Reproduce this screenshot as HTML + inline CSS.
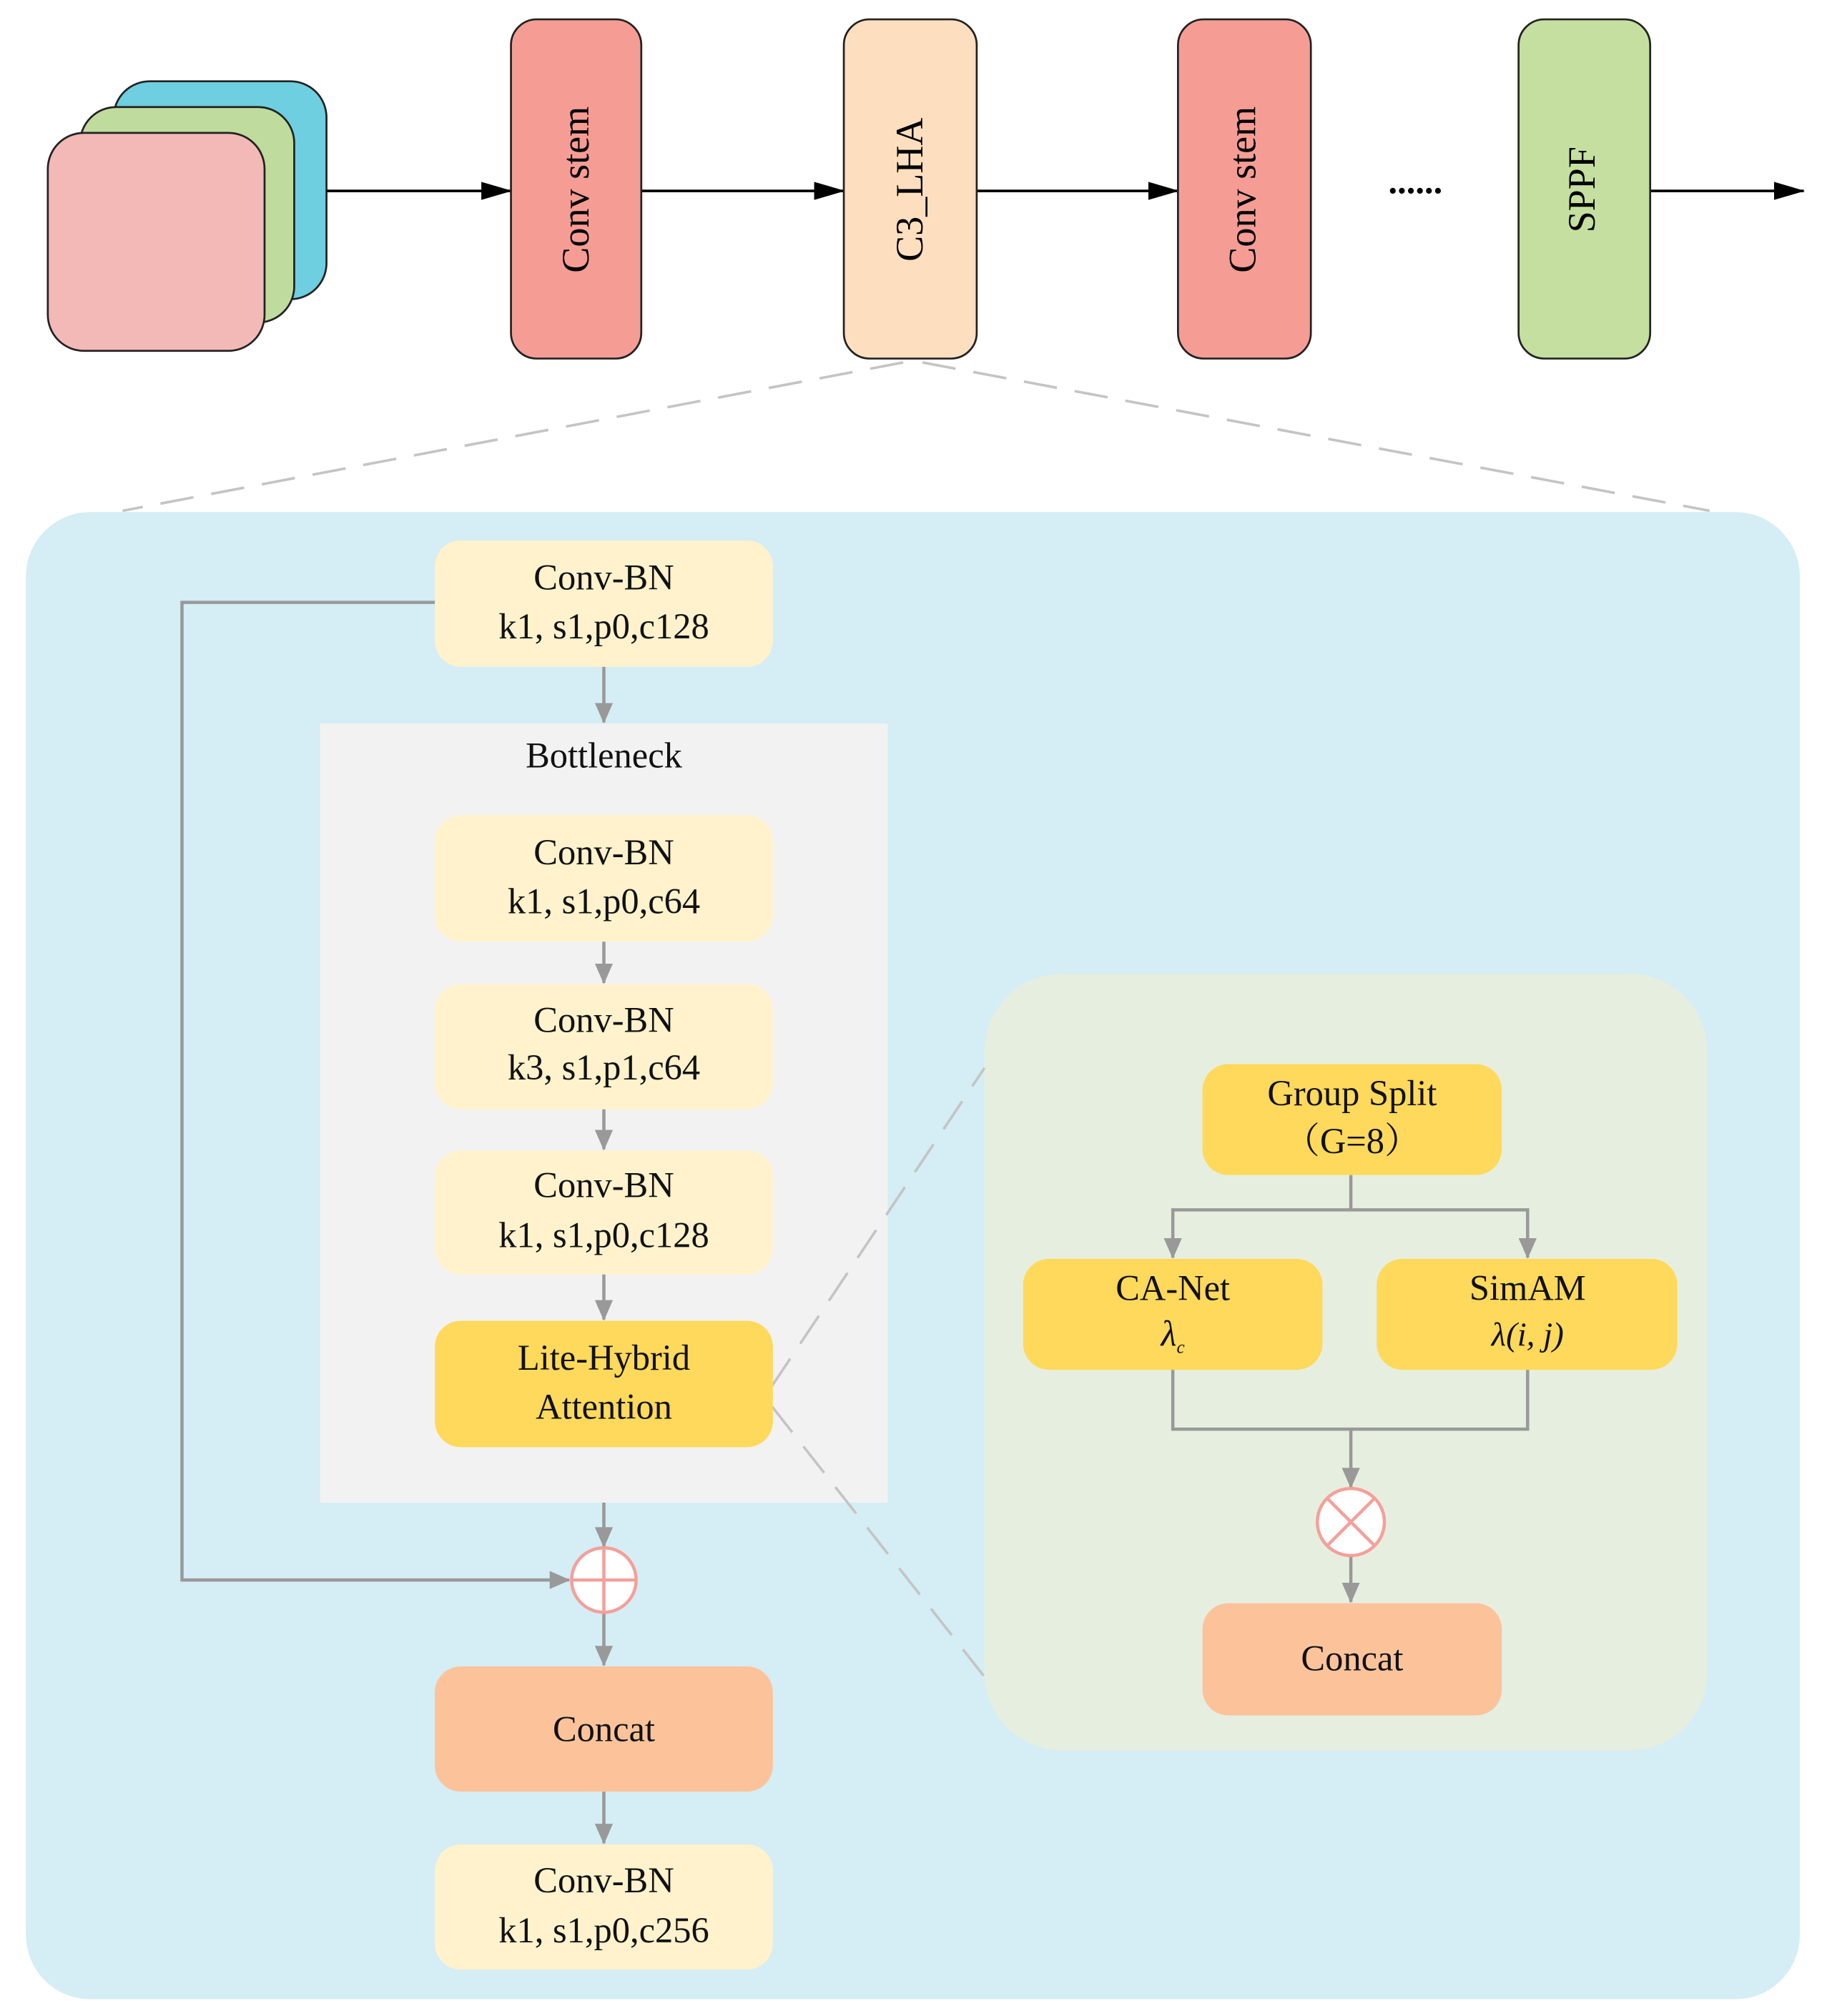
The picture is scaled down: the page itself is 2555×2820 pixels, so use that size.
<!DOCTYPE html>
<html><head><meta charset="utf-8"><style>html,body{margin:0;padding:0;background:#fff}svg{display:block}</style></head>
<body>
<svg width="2555" height="2820" viewBox="0 0 1416 1563" xmlns="http://www.w3.org/2000/svg" font-family="'Liberation Serif', serif">
<defs>
<marker id="ab" markerWidth="24" markerHeight="16" refX="23" refY="8" orient="auto" markerUnits="userSpaceOnUse" viewBox="0 0 24 16"><path d="M0,1 L24,8 L0,15 z" fill="#000"/></marker>
<marker id="ag" markerWidth="16" markerHeight="16" refX="15" refY="8" orient="auto" markerUnits="userSpaceOnUse" viewBox="0 0 16 16"><path d="M0,1 L16,8 L0,15 z" fill="#999"/></marker>
</defs>
<rect width="1416" height="1563" fill="#fff"/>
<rect x="88" y="63" width="165" height="169" rx="28" fill="#6dcfdf" stroke="#222" stroke-width="1.5"/>
<rect x="62" y="83" width="166" height="167" rx="28" fill="#bfdc9e" stroke="#222" stroke-width="1.5"/>
<rect x="37" y="103" width="168" height="169" rx="28" fill="#f3b9b7" stroke="#222" stroke-width="1.5"/>
<g stroke="#000" stroke-width="2" fill="none">
<line x1="253" y1="148" x2="396" y2="148" marker-end="url(#ab)"/>
<line x1="497" y1="148" x2="654" y2="148" marker-end="url(#ab)"/>
<line x1="757" y1="148" x2="913" y2="148" marker-end="url(#ab)"/>
<line x1="1279" y1="148" x2="1398" y2="148" marker-end="url(#ab)"/>
</g>
<rect x="396" y="15" width="101" height="263" rx="20" fill="#f59d94" stroke="#222" stroke-width="1.5"/>
<rect x="654" y="15" width="103" height="263" rx="20" fill="#fddfc0" stroke="#222" stroke-width="1.5"/>
<rect x="913" y="15" width="103" height="263" rx="20" fill="#f59d94" stroke="#222" stroke-width="1.5"/>
<rect x="1177" y="15" width="102" height="263" rx="20" fill="#c5dfa0" stroke="#222" stroke-width="1.5"/>
<g font-size="30" text-anchor="middle" fill="#000">
<text transform="translate(456,147) rotate(-90)">Conv stem</text>
<text transform="translate(715,147) rotate(-90)">C3_LHA</text>
<text transform="translate(973,147) rotate(-90)">Conv stem</text>
<text transform="translate(1236,147) rotate(-90)">SPPF</text>
</g>
<text x="1097" y="150" font-size="28" text-anchor="middle" font-weight="bold">......</text>
<g stroke="#c4c4c4" stroke-width="2" stroke-dasharray="26,14" fill="none">
<line x1="700" y1="281" x2="95" y2="396"/>
<line x1="715" y1="281" x2="1325" y2="396"/>
</g>
<rect x="20" y="397" width="1375" height="1153" rx="50" fill="#d5edf4"/>
<rect x="248" y="561" width="440" height="604" fill="#f2f2f2"/>
<rect x="763" y="755" width="560" height="602" rx="60" fill="#e6efdf"/>
<g stroke="#c4c4c4" stroke-width="2" stroke-dasharray="26,14" fill="none">
<line x1="598" y1="1075" x2="763" y2="828"/>
<line x1="598" y1="1090" x2="763" y2="1300"/>
</g>
<g stroke="#999" stroke-width="2.5" fill="none">
<polyline points="337,467 141,467 141,1225 441,1225" marker-end="url(#ag)"/>
<line x1="468" y1="517" x2="468" y2="560" marker-end="url(#ag)"/>
<line x1="468" y1="730" x2="468" y2="762" marker-end="url(#ag)"/>
<line x1="468" y1="860" x2="468" y2="891" marker-end="url(#ag)"/>
<line x1="468" y1="988" x2="468" y2="1023" marker-end="url(#ag)"/>
<line x1="468" y1="1165" x2="468" y2="1199" marker-end="url(#ag)"/>
<line x1="468" y1="1251" x2="468" y2="1291" marker-end="url(#ag)"/>
<line x1="468" y1="1389" x2="468" y2="1429" marker-end="url(#ag)"/>
<polyline points="1047,911 1047,938 909,938 909,975" marker-end="url(#ag)"/>
<polyline points="1047,938 1184,938 1184,975" marker-end="url(#ag)"/>
<polyline points="909,1062 909,1108 1184,1108 1184,1062"/>
<line x1="1047" y1="1108" x2="1047" y2="1153" marker-end="url(#ag)"/>
<line x1="1047" y1="1206" x2="1047" y2="1242" marker-end="url(#ag)"/>
</g>
<g>
<rect x="337" y="419" width="262" height="98" rx="20" fill="#fff2cc"/>
<rect x="337" y="632" width="262" height="98" rx="20" fill="#fff2cc"/>
<rect x="337" y="763" width="262" height="97" rx="20" fill="#fff2cc"/>
<rect x="337" y="892" width="262" height="96" rx="20" fill="#fff2cc"/>
<rect x="337" y="1024" width="262" height="98" rx="20" fill="#fed95c"/>
<rect x="337" y="1292" width="262" height="97" rx="20" fill="#fcc39b"/>
<rect x="337" y="1430" width="262" height="97" rx="20" fill="#fff2cc"/>
<rect x="932" y="825" width="232" height="86" rx="20" fill="#fed95c"/>
<rect x="793" y="976" width="232" height="86" rx="20" fill="#fed95c"/>
<rect x="1067" y="976" width="233" height="86" rx="20" fill="#fed95c"/>
<rect x="932" y="1243" width="232" height="87" rx="20" fill="#fcc39b"/>
</g>
<g stroke="#f4a09a" stroke-width="2.5" fill="#fff">
<circle cx="468" cy="1225" r="25"/>
<line x1="443" y1="1225" x2="493" y2="1225"/><line x1="468" y1="1200" x2="468" y2="1250"/>
<circle cx="1047" cy="1180" r="26"/>
<line x1="1029" y1="1162" x2="1065" y2="1198"/><line x1="1065" y1="1162" x2="1029" y2="1198"/>
</g>
<g font-size="28" text-anchor="middle" fill="#111">
<text x="468" y="457">Conv-BN</text><text x="468" y="495">k1, s1,p0,c128</text>
<text x="468" y="595">Bottleneck</text>
<text x="468" y="670">Conv-BN</text><text x="468" y="708">k1, s1,p0,c64</text>
<text x="468" y="800">Conv-BN</text><text x="468" y="837">k3, s1,p1,c64</text>
<text x="468" y="928">Conv-BN</text><text x="468" y="967">k1, s1,p0,c128</text>
<text x="468" y="1062">Lite-Hybrid</text><text x="468" y="1100">Attention</text>
<text x="468" y="1350">Concat</text>
<text x="468" y="1467">Conv-BN</text><text x="468" y="1506">k1, s1,p0,c256</text>
<text x="1048" y="857">Group Split</text><text x="1048" y="894" font-family="'Liberation Serif','Noto Serif CJK SC',serif">（G=8）</text>
<text x="909" y="1008">CA-Net</text><text x="909" y="1043" font-style="italic">λ<tspan font-size="14" dy="6">c</tspan></text>
<text x="1184" y="1008">SimAM</text><text x="1184" y="1043" font-style="italic" font-size="26">λ(i, j)</text>
<text x="1048" y="1295">Concat</text>
</g>
</svg>
</body></html>
